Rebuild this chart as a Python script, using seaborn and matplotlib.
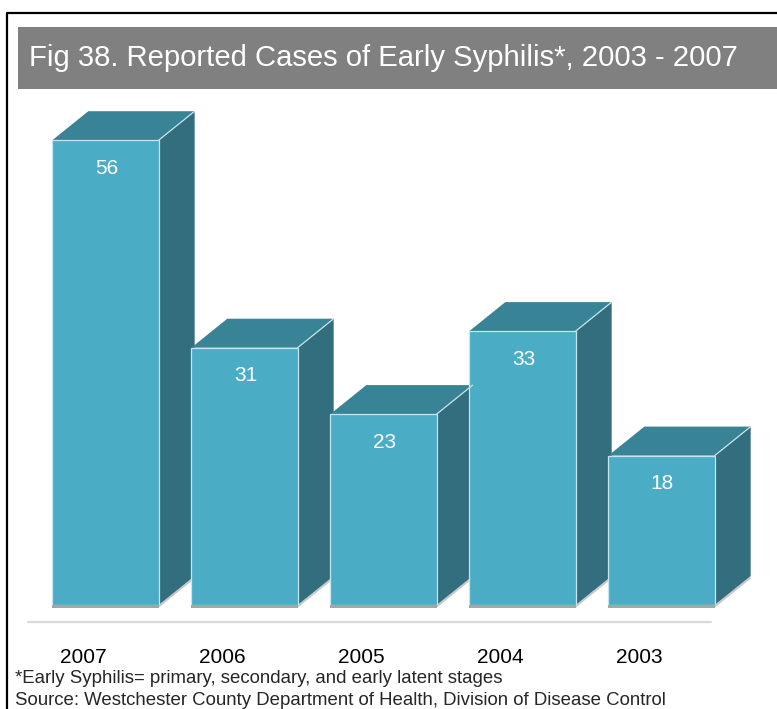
import matplotlib
matplotlib.use("Agg")
import matplotlib.pyplot as plt
import seaborn as sns
import pandas as pd
from matplotlib.patches import Polygon, Rectangle
from matplotlib.lines import Line2D
import matplotlib.transforms as mtransforms
from matplotlib import font_manager

# ---- data ----
years = ["2007", "2006", "2005", "2004", "2003"]
cases = [56, 31, 23, 33, 18]
title = "Fig 38. Reported Cases of Early Syphilis*, 2003 - 2007"
footnote = "*Early Syphilis= primary, secondary, and early latent stages"
source = "Source: Westchester County Department of Health, Division of Disease Control"

W, H, DPI = 777, 709, 100
sns.set_theme(style="white")
plt.rcParams['font.family'] = ['Liberation Sans', 'DejaVu Sans']

installed = {f.name for f in font_manager.fontManager.ttflist}
title_family = ['Liberation Sans Narrow'] if 'Liberation Sans Narrow' in installed else ['Liberation Sans']

fig = plt.figure(figsize=(W / DPI, H / DPI), dpi=DPI)
fig.patch.set_facecolor("white")


def fx(px):
    return px / W


def fy(py):
    return 1 - py / H


FRONT = "#4BACC6"
TOP = "#388396"
SIDE = "#326E7E"
EDGE = "#C8E4EC"

ax = fig.add_axes([fx(36), fy(605), (731 - 36) / W, (605 - 24) / H])
df = pd.DataFrame({"year": years, "cases": cases})
sns.barplot(data=df, x="year", y="cases", color=FRONT, width=0.765,
            saturation=1, ax=ax, edgecolor=EDGE, linewidth=0.9, zorder=3)
ax.set_xlim(-0.5, 4.5)
ax.set_ylim(0, 70)
ax.set_facecolor("none")

# 3D depth (data units): ~36 px right, ~29 px up
DX = 36 / 139
DY = 29 / (581 / 70)

for p, v in zip(ax.patches, cases):
    x0 = p.get_x()
    w = p.get_width()
    h = p.get_height()
    x1 = x0 + w
    side = Polygon([(x1, 0), (x1 + DX, DY), (x1 + DX, h + DY), (x1, h)],
                   closed=True, facecolor=SIDE, edgecolor="none",
                   zorder=2, clip_on=False)
    top = Polygon([(x0, h), (x0 + DX, h + DY), (x1 + DX, h + DY), (x1, h)],
                  closed=True, facecolor=TOP, edgecolor="none",
                  zorder=2, clip_on=False)
    ax.add_patch(side)
    ax.add_patch(top)
    ax.add_line(Line2D([x1, x1 + DX], [h, h + DY], color=EDGE, lw=0.9,
                       zorder=4, clip_on=False))
    ax.add_patch(Rectangle((x0, -0.32), w, 0.32, facecolor="#A6A6A6",
                           edgecolor="none", zorder=2, clip_on=False))
    ax.add_patch(Polygon([(x1, -0.32), (x1, 0), (x1 + DX, DY), (x1 + DX, DY - 0.32)],
                         closed=True, facecolor="#C8C8C8", edgecolor="none",
                         zorder=1, clip_on=False))
    ax.annotate(str(v), xy=(x0 + w / 2, h), xytext=(1, -28),
                textcoords="offset pixels", ha="center", va="center",
                color="white", fontsize=15, zorder=5)

ax.set_xticks(range(len(years)))
ax.set_xticklabels(years)
ax.tick_params(axis="x", length=0, pad=31, labelsize=15, labelcolor="black")
off = mtransforms.ScaledTranslation(-22 / DPI, 0, fig.dpi_scale_trans)
for lab in ax.get_xticklabels():
    lab.set_transform(lab.get_transform() + off)
ax.set_yticks([])
ax.set_xlabel("")
ax.set_ylabel("")
for s in ax.spines.values():
    s.set_visible(False)

# floor line
fig.add_artist(Line2D([fx(28), fx(711)], [fy(622), fy(622)], color="#D9D9D9",
                      lw=1.6, transform=fig.transFigure))

# title bar
fig.add_artist(Rectangle((fx(18), fy(89)), 1.0, (89 - 27) / H,
                         facecolor="#808080", edgecolor="none",
                         transform=fig.transFigure))
t_title = fig.text(fx(29), fy(58), title, color="white", fontsize=21,
                   va="center", ha="left", family=title_family)

# border
fig.add_artist(Line2D([fx(6.5), fx(6.5), 1.0], [0.0, fy(12.5), fy(12.5)],
                      color="black", lw=1.6, transform=fig.transFigure))

t_fn = fig.text(fx(15), fy(683), footnote, fontsize=13, va="baseline", ha="left")
t_src = fig.text(fx(15), fy(705), source, fontsize=13, va="baseline", ha="left")

# fit text widths to reference
r = fig.canvas.get_renderer()
for t, target in [(t_title, 708), (t_src, 653)]:
    bw = t.get_window_extent(r).width
    t.set_fontsize(t.get_fontsize() * target / bw)
t_fn.set_fontsize(t_src.get_fontsize())

fig.savefig("out.png", dpi=DPI)
